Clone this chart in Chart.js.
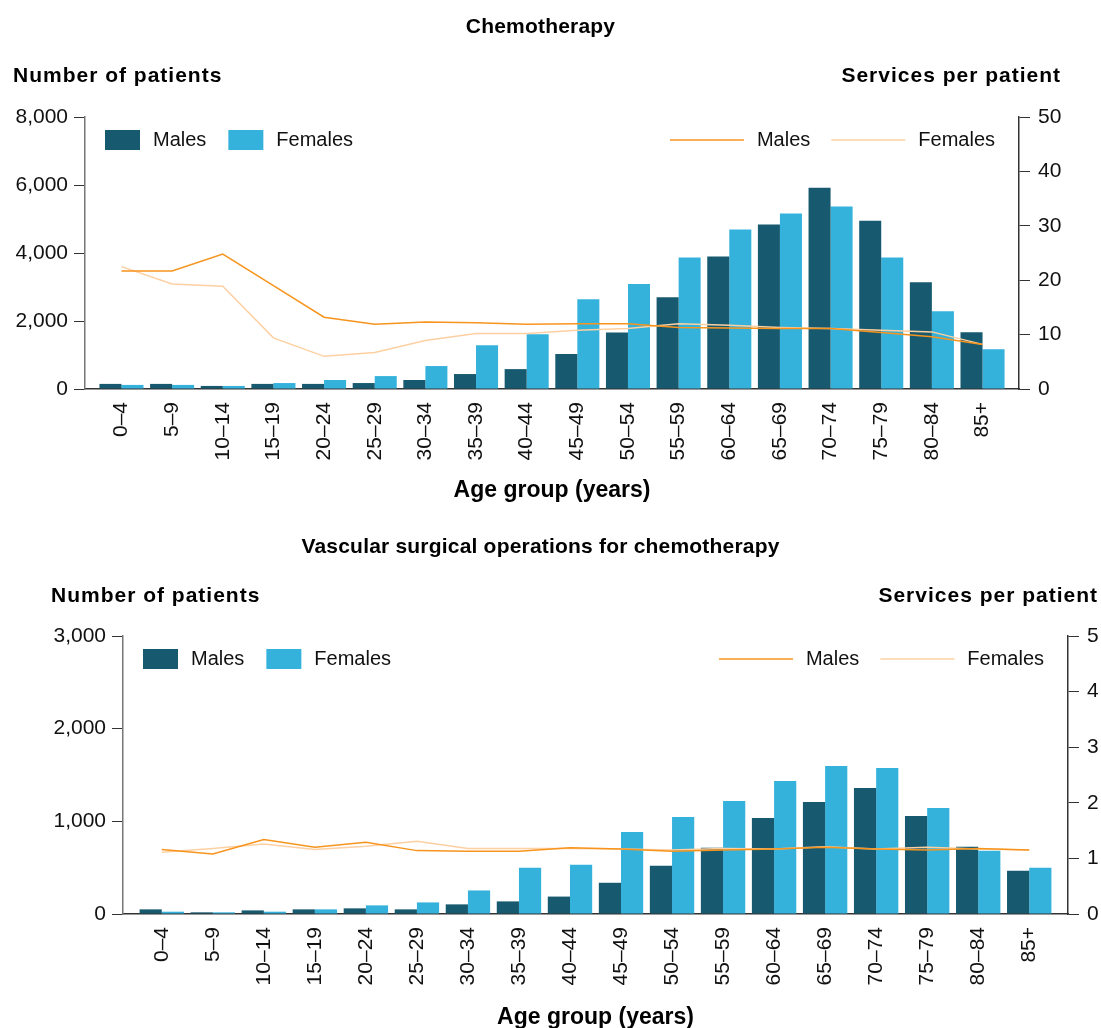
<!DOCTYPE html>
<html>
<head>
<meta charset="utf-8">
<script src="https://cdn.jsdelivr.net/npm/chart.js@4.4.1/dist/chart.umd.min.js"></script>
<style>
  html, body { margin: 0; background: #fff; overflow: hidden; }
  .wrap { position: relative; width: 1101px; }
  #chemoWrap { height: 520px; }
  #vascWrap { height: 511px; }
</style>
</head>
<body>
<div class="wrap" id="chemoWrap"><canvas id="chemoChart"></canvas></div>
<div class="wrap" id="vascWrap"><canvas id="vascChart"></canvas></div>
<script>
const ageGroups = ['0–4', '5–9', '10–14', '15–19', '20–24', '25–29', '30–34', '35–39', '40–44',
                   '45–49', '50–54', '55–59', '60–64', '65–69', '70–74', '75–79', '80–84', '85+'];

// Chemotherapy: number of patients (left axis)
const chemoMalePatients = [150, 150, 90, 150, 150, 175, 265, 440, 585, 1030, 1660, 2700, 3900, 4840, 5920, 4950, 3140, 1670];
const chemoFemalePatients = [120, 120, 90, 175, 265, 380, 675, 1290, 1610, 2640, 3090, 3870, 4690, 5160, 5370, 3870, 2290, 1170];
// Chemotherapy: services per patient (right axis)
const chemoMaleServices = [21.7, 21.7, 24.8, 19.0, 13.2, 11.9, 12.3, 12.2, 11.9, 12.0, 12.0, 11.3, 11.2, 11.1, 11.1, 10.4, 9.6, 8.2];
const chemoFemaleServices = [22.5, 19.3, 18.9, 9.4, 6.0, 6.7, 8.9, 10.2, 10.2, 10.8, 11.1, 12.0, 11.7, 11.3, 11.1, 10.8, 10.5, 8.2];

// Vascular surgical operations for chemotherapy
const vascMalePatients = [50, 18, 39, 50, 61, 50, 104, 136, 188, 337, 520, 714, 1037, 1209, 1360, 1058, 725, 466];
const vascFemalePatients = [25, 18, 25, 50, 93, 125, 254, 500, 531, 886, 1048, 1220, 1435, 1597, 1575, 1145, 682, 499];
const vascMaleServices = [1.16, 1.08, 1.34, 1.20, 1.29, 1.14, 1.13, 1.13, 1.19, 1.17, 1.13, 1.15, 1.17, 1.20, 1.17, 1.15, 1.18, 1.15];
const vascFemaleServices = [1.11, 1.18, 1.26, 1.16, 1.22, 1.31, 1.18, 1.18, 1.18, 1.17, 1.15, 1.18, 1.17, 1.21, 1.17, 1.20, 1.17, 1.15];

const seriesLabels = ['Males', 'Females'];
const barColors = ['#175a70', '#35b2dc'];
const lineColors = ['#f7941d', '#fdd0a2'];

const FONT = '"Liberation Sans", Arial, sans-serif';
Chart.defaults.font.family = FONT;
Chart.defaults.font.size = 21;
Chart.defaults.color = '#111';

// Titles above the plot: chart name and the two horizontal axis headings
const headerPlugin = {
    id: 'header',
    afterDraw(chart, args, opts) {
        const ctx = chart.ctx;
        const yL = chart.scales.y;
        const yR = chart.scales.y1;
        ctx.save();
        ctx.fillStyle = '#000';
        ctx.textBaseline = 'middle';
        ctx.font = 'bold 21px ' + FONT;
        ctx.letterSpacing = '0.2px';
        ctx.textAlign = 'center';
        ctx.fillText(opts.title, chart.width / 2 - 10, 27);
        ctx.letterSpacing = '1px';
        ctx.textAlign = 'left';
        ctx.fillText('Number of patients', yL.left, 76);
        ctx.textAlign = 'right';
        ctx.fillText('Services per patient', yR.right, 76);
        ctx.restore();
    }
};

// Bar legend on the left, line legend on the right, both inside the plot
const pairLegendPlugin = {
    id: 'pairLegend',
    afterDraw(chart) {
        const { ctx, chartArea } = chart;
        const sets = chart.data.datasets;
        const bars = sets.filter(d => d.type === 'bar');
        const lines = sets.filter(d => d.type === 'line');
        const cy = chartArea.top + 23;
        ctx.save();
        ctx.font = '20px ' + FONT;
        ctx.textBaseline = 'middle';
        ctx.textAlign = 'left';

        let x = chartArea.left + 20;
        bars.forEach(d => {
            ctx.fillStyle = d.backgroundColor;
            ctx.fillRect(x, cy - 10, 35, 20);
            ctx.fillStyle = '#111';
            ctx.fillText(d.label, x + 48, cy);
            x += 48 + ctx.measureText(d.label).width + 22;
        });

        let xr = chartArea.right - 24;
        lines.slice().reverse().forEach(d => {
            const w = ctx.measureText(d.label).width;
            ctx.fillStyle = '#111';
            ctx.fillText(d.label, xr - w, cy);
            ctx.strokeStyle = d.borderColor;
            ctx.lineWidth = 1.5;
            ctx.beginPath();
            ctx.moveTo(xr - w - 13 - 74, cy);
            ctx.lineTo(xr - w - 13, cy);
            ctx.stroke();
            xr = xr - w - 13 - 74 - 21;
        });
        ctx.restore();
    }
};

function points(values) {
    return values.map((v, i) => ({ x: i, y: v }));
}

function makeChart(id, cfg) {
    const ctx = document.getElementById(id).getContext('2d');
    return new Chart(ctx, {
        data: {
            datasets: [
                { type: 'line', label: seriesLabels[0], data: points(cfg.maleServices), yAxisID: 'y1',
                  borderColor: lineColors[0], borderWidth: 1.5, pointRadius: 0, tension: 0, order: 0 },
                { type: 'line', label: seriesLabels[1], data: points(cfg.femaleServices), yAxisID: 'y1',
                  borderColor: lineColors[1], borderWidth: 1.5, pointRadius: 0, tension: 0, order: 0 },
                { type: 'bar', label: seriesLabels[0], data: points(cfg.malePatients), yAxisID: 'y',
                  backgroundColor: barColors[0], categoryPercentage: 0.87, barPercentage: 1.0, order: 1 },
                { type: 'bar', label: seriesLabels[1], data: points(cfg.femalePatients), yAxisID: 'y',
                  backgroundColor: barColors[1], categoryPercentage: 0.87, barPercentage: 1.0, order: 1 }
            ]
        },
        options: {
            responsive: true,
            maintainAspectRatio: false,
            animation: false,
            layout: { padding: cfg.padding },
            plugins: {
                legend: { display: false },
                tooltip: { enabled: false },
                header: { title: cfg.title }
            },
            scales: {
                x: {
                    type: 'linear',
                    offset: false,
                    min: -cfg.edge,
                    max: ageGroups.length - 1 + cfg.edge,
                    afterBuildTicks: s => { s.ticks = ageGroups.map((_, i) => ({ value: i })); },
                    afterFit: s => { s.height = cfg.xHeight; },
                    ticks: {
                        autoSkip: false, minRotation: 90, maxRotation: 90, padding: 5,
                        color: '#111', callback: (v, i) => ageGroups[i]
                    },
                    grid: { display: false },
                    border: { display: true, color: '#333', width: 1.5 },
                    title: {
                        display: true, text: 'Age group (years)', color: '#000',
                        font: { weight: 'bold', size: 23 }, padding: { top: 0, bottom: cfg.titleBottom }
                    }
                },
                y: {
                    position: 'left',
                    min: 0, max: cfg.leftMax,
                    afterFit: s => { s.width = 72; },
                    ticks: { stepSize: cfg.leftStep, padding: 6, color: '#111' },
                    grid: { drawOnChartArea: false, drawTicks: true, tickLength: 11, color: '#333' },
                    border: { display: true, color: '#777', width: 1.5 }
                },
                y1: {
                    position: 'right',
                    min: 0, max: cfg.rightMax,
                    afterFit: s => { s.width = cfg.rightWidth; },
                    ticks: { stepSize: cfg.rightStep, padding: 8, color: '#111' },
                    grid: { drawOnChartArea: false, drawTicks: true, tickLength: 11, color: '#333' },
                    border: { display: true, color: '#333', width: 1.5 }
                }
            }
        },
        plugins: [headerPlugin, pairLegendPlugin]
    });
}

document.addEventListener('DOMContentLoaded', () => {
    makeChart('chemoChart', {
        title: 'Chemotherapy',
        malePatients: chemoMalePatients, femalePatients: chemoFemalePatients,
        maleServices: chemoMaleServices, femaleServices: chemoFemaleServices,
        leftMax: 8000, leftStep: 2000, rightMax: 50, rightStep: 10,
        edge: 0.72, xHeight: 131, titleBottom: 16, rightWidth: 42,
        padding: { top: 117, left: 13, right: 40, bottom: 0 }
    });

    makeChart('vascChart', {
        title: 'Vascular surgical operations for chemotherapy',
        malePatients: vascMalePatients, femalePatients: vascFemalePatients,
        maleServices: vascMaleServices, femaleServices: vascFemaleServices,
        leftMax: 3000, leftStep: 1000, rightMax: 5, rightStep: 1,
        edge: 0.76, xHeight: 117, titleBottom: 0, rightWidth: 30,
        padding: { top: 116, left: 51, right: 3, bottom: 0 }
    });
});
</script>
</body>
</html>
